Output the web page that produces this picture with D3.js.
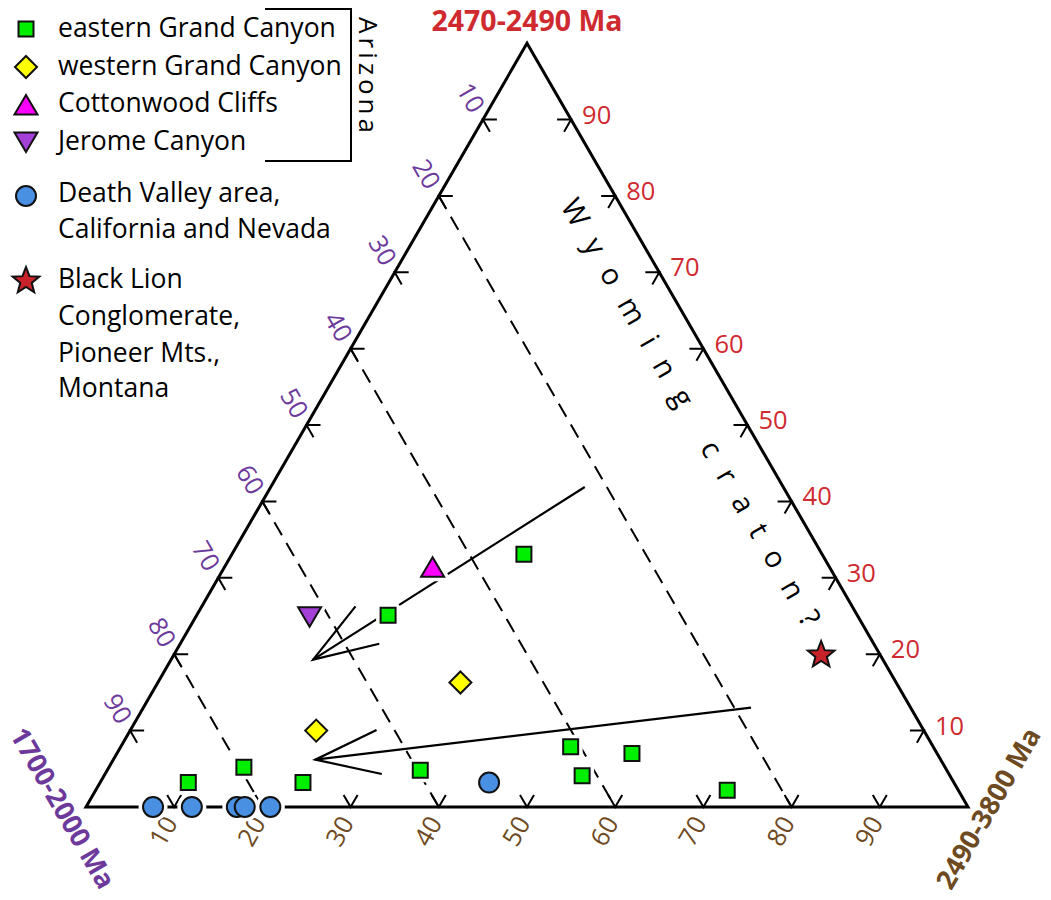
<!DOCTYPE html>
<html>
<head>
<meta charset="utf-8">
<script src="https://cdn.jsdelivr.net/npm/d3@7"></script>
<style>
  html, body { margin: 0; padding: 0; background: #fff; }
  svg { display: block; font-family: "Open Sans", "Noto Sans", sans-serif; }
</style>
</head>
<body>
<svg id="chart" width="1051" height="900"></svg>
<script>
// Percent ticks along every side of the ternary diagram
const tickValues = [10, 20, 30, 40, 50, 60, 70, 80, 90];
// Dashed guide lines: constant 1700-2000 Ma fraction (percent)
const guideValues = [20, 40, 60, 80];
// Corner titles: top, left, right
const cornerTitles = ["2470-2490 Ma", "1700-2000 Ma", "2490-3800 Ma"];

// Sample compositions as [2470-2490 Ma %, 2490-3800 Ma %]; the rest is 1700-2000 Ma
const easternGrandCanyon = [
  [33.1, 33.1], [25.1, 21.7], [3.2, 10.0], [5.2, 15.3], [3.2, 23.0],
  [4.8, 35.5], [7.9, 51.0], [4.1, 54.2], [7.0, 58.4], [2.2, 71.6]
];
const westernGrandCanyon = [[16.3, 34.3], [10.0, 21.1]];
const cottonwoodCliffs = [[31.4, 23.6]];
const jeromeCanyon = [[24.9, 12.9]];
const deathValley = [[0, 7.6], [0, 12.0], [0, 17.1], [0, 18.0], [0, 20.9], [3.2, 44.1]];
const blackLion = [[19.9, 73.4]];

// Trend arrows, start and head, same composition convention
const trendArrows = [
  { from: [41.9, 35.6], to: [19.3, 16.1] },
  { from: [13.0, 68.9], to: [6.2, 22.9] }
];

const legendLabels = [
  ["eastern Grand Canyon"],
  ["western Grand Canyon"],
  ["Cottonwood Cliffs"],
  ["Jerome Canyon"],
  ["Death Valley area,", "California and Nevada"],
  ["Black Lion", "Conglomerate,", "Pioneer Mts.,", "Montana"]
];
const groupLabel = "Arizona";
const noteLabel = "Wyoming craton?";

const RED = "#cf2a30", PURPLE = "#6d3a9c", BROWN = "#6e4a22";

const svg = d3.select("#chart");

// Ternary scales: base position from (right + top/2), height from top fraction
const xScale = d3.scaleLinear().domain([0, 100]).range([86, 968]);
const yScale = d3.scaleLinear().domain([0, 100]).range([807, 43.2]);
const pos = (top, right) => [xScale(right + top / 2), yScale(top)];

const line = d3.line();

// Guide lines from left edge to base
svg.append("g").selectAll("path")
  .data(guideValues)
  .join("path")
  .attr("d", v => line([pos(100 - v, 0), pos(0, 100 - v)]))
  .attr("fill", "none")
  .attr("stroke", "#000")
  .attr("stroke-width", 2)
  .attr("stroke-dasharray", "15,9");

// Trend arrows with open heads
const arrowG = svg.append("g");
trendArrows.forEach(a => {
  const p0 = pos(a.from[0], a.from[1]);
  const p1 = pos(a.to[0], a.to[1]);
  const ang = Math.atan2(p0[1] - p1[1], p0[0] - p1[0]);
  const len = 68, spread = 19 * Math.PI / 180;
  const h1 = [p1[0] + len * Math.cos(ang - spread), p1[1] + len * Math.sin(ang - spread)];
  const h2 = [p1[0] + len * Math.cos(ang + spread), p1[1] + len * Math.sin(ang + spread)];
  arrowG.append("path").attr("d", line([p0, p1]));
  arrowG.append("path").attr("d", line([h1, p1, h2]));
});
arrowG.selectAll("path")
  .attr("fill", "none").attr("stroke", "#000").attr("stroke-width", 2.2);

// Triangle frame
svg.append("path")
  .attr("d", line([pos(0, 0), pos(0, 100), pos(100, 0)]) + "Z")
  .attr("fill", "none")
  .attr("stroke", "#000")
  .attr("stroke-width", 3)
  .attr("stroke-linejoin", "miter");

// Chevron ticks on each side
const L = 14, c60 = 0.5, s60 = Math.sqrt(3) / 2;
const tickG = svg.append("g").attr("fill", "none").attr("stroke", "#000").attr("stroke-width", 2);
tickValues.forEach(v => {
  // left side (1700-2000 Ma)
  let p = pos(100 - v, 0);
  tickG.append("path").attr("d", line([[p[0] + L, p[1]], p, [p[0] + L * c60, p[1] + L * s60]]));
  // right side (2470-2490 Ma)
  p = pos(v, 100 - v);
  tickG.append("path").attr("d", line([[p[0] - L, p[1]], p, [p[0] - L * c60, p[1] + L * s60]]));
  // base (2490-3800 Ma)
  p = pos(0, v);
  tickG.append("path").attr("d", line([[p[0] - L * c60, p[1] - L * s60], p, [p[0] + L * c60, p[1] - L * s60]]));
});

// Tick labels
const labG = svg.append("g").attr("font-size", 25.5);
labG.selectAll("text.l").data(tickValues).join("text").attr("class", "l")
  .attr("transform", v => { const p = pos(100 - v, 0); return `translate(${p[0] - 12},${p[1] - 22}) rotate(60)`; })
  .attr("text-anchor", "middle").attr("dy", "0.36em").attr("fill", PURPLE).text(v => v);
labG.selectAll("text.r").data(tickValues).join("text").attr("class", "r")
  .attr("x", v => pos(v, 100 - v)[0] + 11)
  .attr("y", v => pos(v, 100 - v)[1] + 4)
  .attr("fill", RED).text(v => v);
labG.selectAll("text.b").data(tickValues).join("text").attr("class", "b")
  .attr("transform", v => { const p = pos(0, v); return `translate(${p[0] - 11},${p[1] + 24}) rotate(-60)`; })
  .attr("text-anchor", "middle").attr("dy", "0.36em").attr("fill", BROWN).text(v => v);

// Corner titles
const titleG = svg.append("g").attr("font-weight", "bold").attr("text-anchor", "middle");
titleG.append("text").attr("x", 527).attr("y", 31).attr("font-size", 28.5).attr("fill", RED).text(cornerTitles[0]);
titleG.append("text").attr("transform", "translate(63,808) rotate(60)").attr("dy", "0.36em")
  .attr("font-size", 27).attr("fill", PURPLE).text(cornerTitles[1]);
titleG.append("text").attr("transform", "translate(988,808) rotate(-60)").attr("dy", "0.36em")
  .attr("font-size", 27).attr("fill", BROWN).text(cornerTitles[2]);

// Note along the right side
svg.append("text")
  .attr("transform", "translate(691,412) rotate(60)")
  .attr("text-anchor", "middle").attr("dy", "0.36em")
  .attr("font-size", 29)
  .attr("textLength", 488).attr("lengthAdjust", "spacing")
  .text(noteLabel);

// Marker shapes
const shapes = {
  square: (x, y) => line([[x - 7.5, y - 7.5], [x + 7.5, y - 7.5], [x + 7.5, y + 7.5], [x - 7.5, y + 7.5]]) + "Z",
  diamond: (x, y) => line([[x, y - 11], [x + 11, y], [x, y + 11], [x - 11, y]]) + "Z",
  up: (x, y) => line([[x, y - 10], [x + 11.5, y + 9.5], [x - 11.5, y + 9.5]]) + "Z",
  down: (x, y) => line([[x, y + 10], [x + 11.5, y - 9.5], [x - 11.5, y - 9.5]]) + "Z",
  circle: (x, y) => { const p = d3.path(); p.arc(x, y, 10, 0, 2 * Math.PI); p.closePath(); return p.toString(); },
  star: (x, y) => {
    const pts = d3.range(10).map(i => {
      const r = i % 2 ? 6 : 14, t = -Math.PI / 2 + i * Math.PI / 5;
      return [x + r * Math.cos(t), y + r * Math.sin(t)];
    });
    return line(pts) + "Z";
  }
};

const series = [
  { data: easternGrandCanyon, shape: "square", fill: "#00ee00" },
  { data: westernGrandCanyon, shape: "diamond", fill: "#ffff00" },
  { data: cottonwoodCliffs, shape: "up", fill: "#ff00ff" },
  { data: jeromeCanyon, shape: "down", fill: "#a43fd8" },
  { data: deathValley, shape: "circle", fill: "#4a90e2" },
  { data: blackLion, shape: "star", fill: "#c8232b" }
];

function drawMarker(g, shape, x, y, fill) {
  g.append("path").attr("d", shapes[shape](x, y))
    .attr("fill", fill).attr("stroke", "#111").attr("stroke-width", 2);
}

const markG = svg.append("g");
// white halos first so they break lines but not neighbouring markers
series.forEach(s => s.data.forEach(d => {
  const p = pos(d[0], d[1]);
  markG.append("path").attr("d", shapes[s.shape](p[0], p[1]))
    .attr("fill", "#fff").attr("stroke", "#fff").attr("stroke-width", 9).attr("stroke-linejoin", "round");
}));
series.forEach(s => s.data.forEach(d => {
  const p = pos(d[0], d[1]);
  drawMarker(markG, s.shape, p[0], p[1], s.fill);
}));

// Legend
const legG = svg.append("g").attr("font-size", 26.5);
const legRows = [
  { mark: [26, 29], lines: [37] },
  { mark: [26, 67], lines: [75] },
  { mark: [26, 105], lines: [112] },
  { mark: [26, 142], lines: [150] },
  { mark: [26, 196], lines: [202, 238] },
  { mark: [26, 281], lines: [288, 325, 362, 397] }
];
legRows.forEach((r, i) => {
  drawMarker(legG, series[i].shape, r.mark[0], r.mark[1], series[i].fill);
  legendLabels[i].forEach((t, j) => {
    legG.append("text").attr("x", 58).attr("y", r.lines[j]).text(t);
  });
});

// Bracket grouping the Arizona localities
svg.append("path")
  .attr("d", line([[265, 9], [351, 9], [351, 161], [265, 161]]))
  .attr("fill", "none").attr("stroke", "#000").attr("stroke-width", 2);
svg.append("text")
  .attr("transform", "translate(368,75) rotate(90)")
  .attr("text-anchor", "middle").attr("dy", "0.36em")
  .attr("font-size", 26)
  .attr("textLength", 116).attr("lengthAdjust", "spacing")
  .text(groupLabel);
</script>
</body>
</html>
